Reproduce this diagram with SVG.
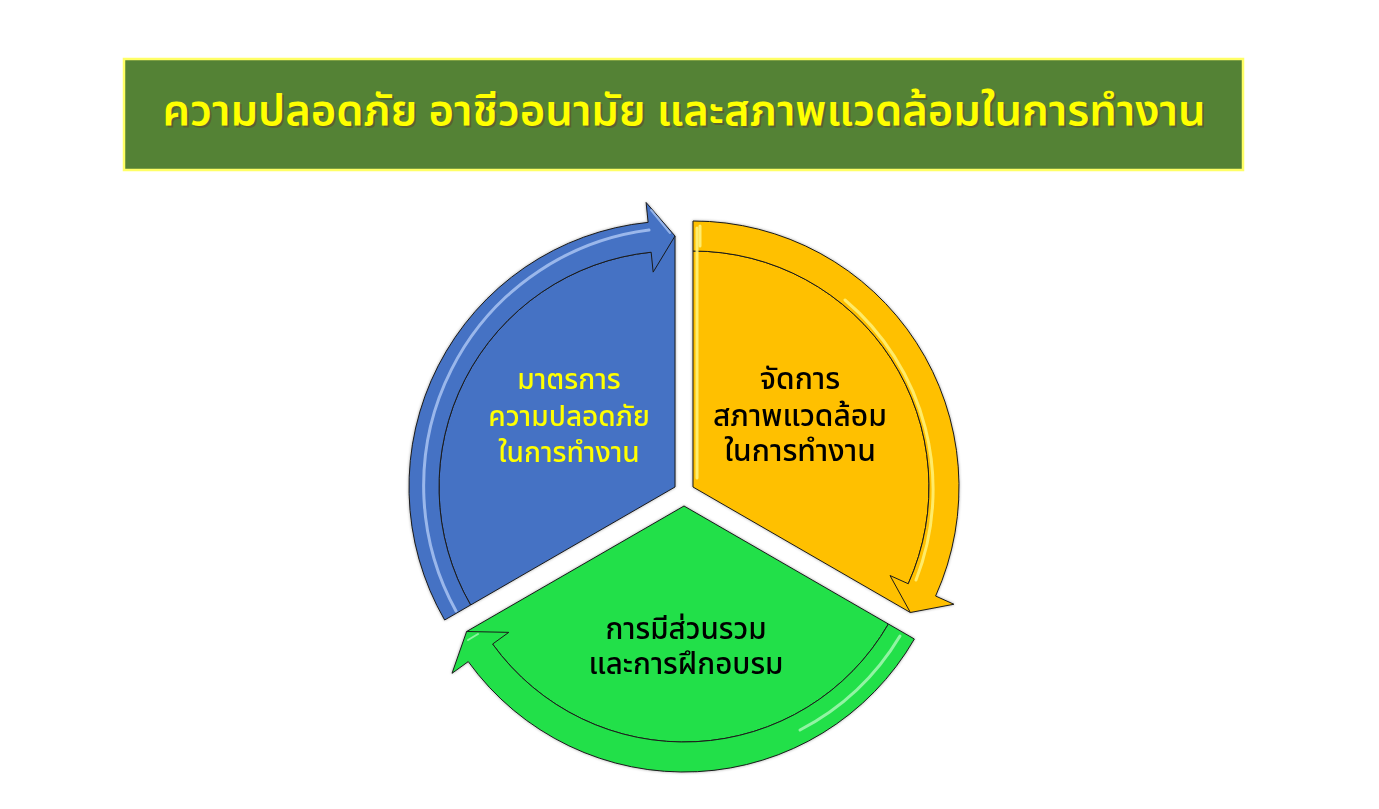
<svg xmlns="http://www.w3.org/2000/svg" width="1379" height="809" viewBox="0 0 1379 809">
<style>
.th{font-family:"Noto Sans Thai","Noto Sans","DejaVu Sans",sans-serif;text-anchor:middle}
.title{font-size:43.5px;font-weight:600;fill:#FFFF00}
.tshadow{font-size:43.5px;font-weight:600;fill:#5a5a30;opacity:0.8}
.lbl{font-weight:500}
.edge{stroke:#1a1a1a;stroke-width:1;stroke-linejoin:round}
.hl{fill:none;stroke-linecap:round}
</style>
<defs>
<filter id="soft" x="-10%" y="-10%" width="120%" height="120%">
<feGaussianBlur in="SourceAlpha" stdDeviation="1.5"/>
<feOffset dx="0" dy="0" result="b"/>
<feComponentTransfer><feFuncA type="linear" slope="0.35"/></feComponentTransfer>
<feMerge><feMergeNode/><feMergeNode in="SourceGraphic"/></feMerge>
</filter>
</defs>
<rect width="1379" height="809" fill="#FFFFFF"/>

<g id="title">
<rect x="124" y="59" width="1119" height="111" fill="#548235" stroke="#FFFF66" stroke-width="2.5"/>
<text class="th tshadow" x="686" y="127">ความปลอดภัย อาชีวอนามัย และสภาพแวดล้อมในการทำงาน</text>
<text class="th title" x="684" y="125">ความปลอดภัย อาชีวอนามัย และสภาพแวดล้อมในการทำงาน</text>
</g>

<g id="node-safety" filter="url(#soft)">
<path class="edge" fill="#4472C4" d="M675,487 L470.62,605 A236,236 0 0 1 651.15,252.21 L675,236 Z"/>
<path class="edge" fill="#4472C4" d="M470.62,605 L444.64,620 A266,266 0 0 1 648.12,222.36 L646.1,202.46 L675,236 L653.17,272.11 L651.15,252.21 A236,236 0 0 0 470.62,605 Z"/>
<path class="hl" stroke="#A9C3F2" stroke-width="3" opacity="0.85" d="M456,611 A258,258 0 0 1 649,230"/>
<path class="hl" stroke="#A9C3F2" stroke-width="2" opacity="0.8" d="M651,210 L670,233"/>
<text class="th lbl" font-size="28" fill="#FFFF00" x="569" y="389">มาตรการ</text>
<text class="th lbl" font-size="28" fill="#FFFF00" x="569" y="426">ความปลอดภัย</text>
<text class="th lbl" font-size="28" fill="#FFFF00" x="569" y="462">ในการทำงาน</text>
</g>

<g id="node-environment" filter="url(#soft)">
<path class="edge" fill="#FFC000" d="M693,487 L693,251 A236,236 0 0 1 908.26,583.74 L910.37,612.5 Z"/>
<path class="edge" fill="#FFC000" d="M693,251 L693,221 A266,266 0 0 1 935.62,596.04 L953.87,604.24 L910.37,612.5 L890.02,575.54 L908.26,583.74 A236,236 0 0 0 693,251 Z"/>
<path class="hl" stroke="#FFF27A" stroke-width="3" opacity="0.9" d="M697,228 L697,478"/>
<path class="hl" stroke="#FFF27A" stroke-width="3" opacity="0.9" d="M700,226 L700,246"/>
<path class="hl" stroke="#FFF27A" stroke-width="3" opacity="0.85" d="M845,300 A248,248 0 0 1 916,580"/>
<text class="th lbl" font-size="30" fill="#000000" x="800" y="389">จัดการ</text>
<text class="th lbl" font-size="30" fill="#000000" x="800" y="426">สภาพแวดล้อม</text>
<text class="th lbl" font-size="30" fill="#000000" x="800" y="461">ในการทำงาน</text>
</g>

<g id="node-participation" filter="url(#soft)">
<path class="edge" fill="#22E04A" d="M684,506 L888.38,624 A236,236 0 0 1 492.59,644.05 L466.63,631.5 Z"/>
<path class="edge" fill="#22E04A" d="M888.38,624 L914.36,639 A266,266 0 0 1 468.26,661.6 L452.04,673.3 L466.63,631.5 L508.81,632.35 L492.59,644.05 A236,236 0 0 0 888.38,624 Z"/>
<path class="hl" stroke="#A6F7B3" stroke-width="3" opacity="0.85" d="M900,636 A252,252 0 0 1 800,730"/>
<path class="hl" stroke="#A6F7B3" stroke-width="2" opacity="0.8" d="M468,640 L478,634"/>
<text class="th lbl" font-size="29.5" fill="#000000" x="686" y="639">การมีส่วนรวม</text>
<text class="th lbl" font-size="29.5" fill="#000000" x="686" y="674">และการฝึกอบรม</text>
</g>

<g id="connectors"></g>
</svg>
